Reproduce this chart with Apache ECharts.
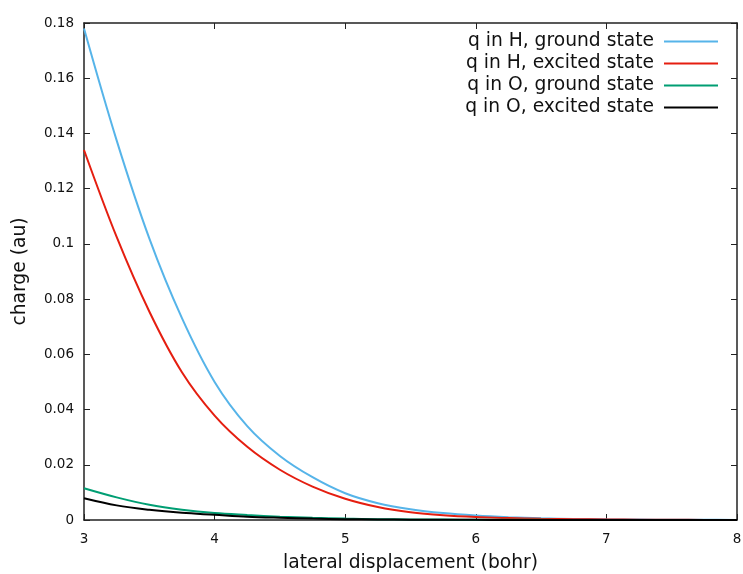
<!DOCTYPE html>
<html>
<head>
<meta charset="utf-8">
<script src="https://cdn.jsdelivr.net/npm/echarts@6/dist/echarts.min.js"></script>
<style>
  html, body { margin: 0; padding: 0; background: #fff; }
  #chart { width: 743px; height: 574px; }
</style>
</head>
<body>
<div id="chart"></div>
<script>
// lateral displacement (bohr)
var xValues = [3, 3.25, 3.5, 3.75, 4, 4.25, 4.5, 4.75, 5, 5.25, 5.5, 5.75, 6, 6.25, 6.5, 6.75, 7, 7.25, 7.5, 7.75, 8];

// charge (au)
var hGround = [0.178, 0.1375, 0.102, 0.0731, 0.05, 0.034, 0.0232, 0.0155, 0.0097, 0.0061, 0.0039, 0.0025, 0.0016, 0.001, 0.0006, 0.0004, 0.00025, 0.00016, 0.0001, 0.00006, 0.00003];
var hExcited = [0.134, 0.1025, 0.0755, 0.0535, 0.0378, 0.0265, 0.0182, 0.0121, 0.0077, 0.0047, 0.0028, 0.0017, 0.00105, 0.0007, 0.00045, 0.0003, 0.0002, 0.00012, 0.00007, 0.00004, 0.00002];
var oGround = [0.0115, 0.0082, 0.0055, 0.0037, 0.0025, 0.0018, 0.0012, 0.0008, 0.0005, 0.0003, 0.0002, 0.00014, 0.0001, 0.00007, 0.00005, 0.00004, 0.00003, 0.00002, 0.00001, 0.00001, 0];
var oExcited = [0.0079, 0.0053, 0.0037, 0.0026, 0.0019, 0.0012, 0.0008, 0.0005, 0.0003, 0.0002, 0.0001, 0.00007, 0.00005, 0.00003, 0.00002, 0.00001, 0.00001, 0, 0, 0, 0];

var seriesNames = ['q in H, ground state', 'q in H, excited state', 'q in O, ground state', 'q in O, excited state'];
var seriesColors = ['#56b4e9', '#e51e10', '#009e73', '#000000'];
var seriesData = [hGround, hExcited, oGround, oExcited];

var font = 'DejaVu Sans';
var borderColor = '#222';

function pairs(ys) {
  return xValues.map(function (x, i) { return [x, ys[i]]; });
}

var chart = echarts.init(document.getElementById('chart'));

var series = [];
for (var i = 0; i < seriesNames.length; i++) {
  series.push({
    name: seriesNames[i],
    type: 'line',
    data: pairs(seriesData[i]),
    smooth: 0.35,
    showSymbol: false,
    symbol: 'none',
    lineStyle: { color: seriesColors[i], width: 2 },
    itemStyle: { color: seriesColors[i] }
  });
}

var axisLine = { show: true, onZero: false, lineStyle: { color: borderColor, width: 1.5 } };
var tick = { show: true, inside: true, length: 6, lineStyle: { color: borderColor, width: 1 } };

chart.setOption({
  animation: false,
  backgroundColor: '#fff',
  textStyle: { fontFamily: font },
  grid: { left: 84, right: 6, top: 23, bottom: 54, containLabel: false, outerBoundsMode: 'none' },
  legend: {
    right: 20,
    top: 27,
    orient: 'vertical',
    align: 'right',
    icon: 'rect',
    itemWidth: 54,
    itemHeight: 2,
    itemGap: 3,
    textStyle: { fontFamily: font, fontSize: 18.7, color: '#111', padding: [0, 5, 0, 0] },
    data: seriesNames
  },
  xAxis: [{
    type: 'value',
    min: 3, max: 8, interval: 1,
    name: 'lateral displacement (bohr)',
    nameLocation: 'middle',
    nameGap: 34,
    nameTextStyle: { fontFamily: font, fontSize: 18.7, color: '#111' },
    axisLine: axisLine,
    axisTick: tick,
    axisLabel: { margin: 12, fontFamily: font, fontSize: 13.5, color: '#111' },
    splitLine: { show: false }
  }, {
    type: 'value',
    position: 'top',
    min: 3, max: 8, interval: 1,
    axisLine: axisLine,
    axisTick: tick,
    axisLabel: { show: false },
    splitLine: { show: false }
  }],
  yAxis: [{
    type: 'value',
    min: 0, max: 0.18, interval: 0.02,
    name: 'charge (au)',
    nameLocation: 'middle',
    nameGap: 54,
    nameTextStyle: { fontFamily: font, fontSize: 18.7, color: '#111' },
    axisLine: axisLine,
    axisTick: tick,
    axisLabel: { margin: 10, fontFamily: font, fontSize: 13.5, color: '#111' },
    splitLine: { show: false }
  }, {
    type: 'value',
    position: 'right',
    min: 0, max: 0.18, interval: 0.02,
    axisLine: axisLine,
    axisTick: tick,
    axisLabel: { show: false },
    splitLine: { show: false }
  }],
  series: series
});
</script>
</body>
</html>
